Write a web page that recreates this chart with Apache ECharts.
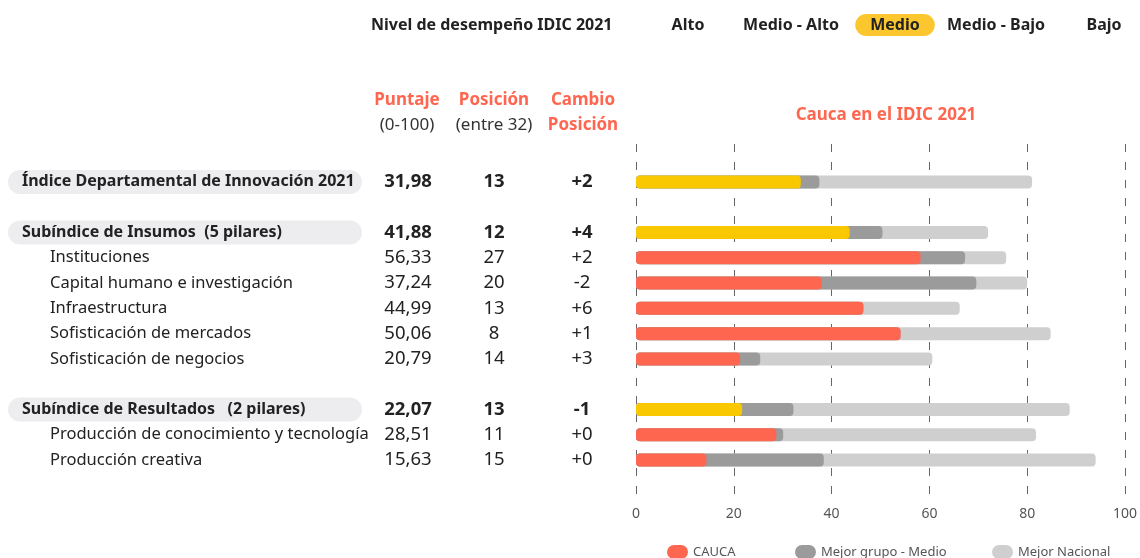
<!DOCTYPE html>
<html>
<head>
<meta charset="utf-8">
<script src="https://cdn.jsdelivr.net/npm/echarts@6/dist/echarts.min.js"></script>
<style>
  html, body { margin: 0; padding: 0; background: #fff; }
  #chart { width: 1140px; height: 558px; }
</style>
</head>
<body>
<div id="chart"></div>
<script>
// filas de la tabla
const nombres = [
  'Índice Departamental de Innovación 2021',
  'Subíndice de Insumos  (5 pilares)',
  'Instituciones',
  'Capital humano e investigación',
  'Infraestructura',
  'Sofisticación de mercados',
  'Sofisticación de negocios',
  'Subíndice de Resultados   (2 pilares)',
  'Producción de conocimiento y tecnología',
  'Producción creativa'
];
const esIndice = [true, true, false, false, false, false, false, true, false, false];
const puntaje = ['31,98', '41,88', '56,33', '37,24', '44,99', '50,06', '20,79', '22,07', '28,51', '15,63'];
const posicion = ['13', '12', '27', '20', '13', '8', '14', '13', '11', '15'];
const cambio = ['+2', '+4', '+2', '-2', '+6', '+1', '+3', '-1', '+0', '+0'];

// barras
const cauca = [33.7, 43.7, 58.2, 38.0, 46.5, 54.1, 21.3, 21.7, 28.7, 14.4];
const mejorGrupo = [37.5, 50.4, 67.3, 69.6, 46.5, 54.1, 25.4, 32.2, 30.1, 38.4];
const mejorNacional = [81.0, 72.0, 75.7, 80.0, 66.2, 84.8, 60.6, 88.7, 81.8, 94.0];

const niveles = ['Alto', 'Medio - Alto', 'Medio', 'Medio - Bajo', 'Bajo'];
const nivelActual = 'Medio';

// espacios en blanco entre bloques (null = hueco)
const huecos = [null, 0, null, 1, 2, 3, 4, 5, 6, null, 7, 8, 9, null];

const ROJO = '#FF6650', AMARILLO = '#FAC800', GRIS = '#9B9B9B', GRIS_CLARO = '#CFCFCF';
const FONT = 'Noto Sans';

const slots = huecos.map((r, i) => 's' + i);
const pick = (arr) => huecos.map(r => (r === null ? null : arr[r]));

const myChart = echarts.init(document.getElementById('chart'));

const ejeTabla = (offset, align, fmt, rich) => ({
  type: 'category',
  data: slots,
  inverse: true,
  position: 'left',
  offset: offset,
  axisLine: { show: false },
  axisTick: { show: false },
  splitLine: { show: false },
  axisLabel: {
    interval: 0,
    margin: 0,
    align: align,
    fontFamily: FONT,
    color: '#222',
    formatter: (v, i) => {
      const r = huecos[i];
      if (r === null) return '';
      return fmt(r);
    },
    rich: rich
  }
});

const numRich = {
  b: { fontFamily: FONT, fontSize: 18.5, fontWeight: 'bold', color: '#222' },
  n: { fontFamily: FONT, fontSize: 18.5, color: '#222' }
};

const option = {
  animation: false,
  textStyle: { fontFamily: FONT },
  title: {
    text: 'Cauca en el IDIC 2021',
    left: 881,
    top: 102,
    textAlign: 'center',
    textStyle: { color: ROJO, fontSize: 17, fontWeight: 'bold', fontFamily: FONT }
  },
  grid: { left: 636, right: 13, top: 144, bottom: 60 },
  xAxis: {
    type: 'value',
    min: 0,
    max: 100,
    interval: 20,
    axisLine: { show: false },
    axisTick: { show: false },
    axisLabel: { color: '#555', fontSize: 14, margin: 9, fontFamily: FONT },
    splitLine: { show: true, lineStyle: { color: '#666', type: [8, 10], width: 1 } }
  },
  yAxis: [
    ejeTabla(628, 'left', (r) => (esIndice[r] ? '{h|' + nombres[r] + '}' : '{s|' + nombres[r] + '}'), {
      h: { fontFamily: FONT, fontSize: 16, fontWeight: 'bold', color: '#222',
           backgroundColor: '#EDEDF0', borderRadius: 12, padding: [4, 0, 4, 14], width: 340, lineHeight: 16 },
      s: { fontFamily: FONT, fontSize: 16.5, color: '#222', padding: [0, 0, 0, 42] }
    }),
    ejeTabla(228, 'center', (r) => (esIndice[r] ? '{b|' : '{n|') + puntaje[r] + '}', numRich),
    ejeTabla(142, 'center', (r) => (esIndice[r] ? '{b|' : '{n|') + posicion[r] + '}', numRich),
    ejeTabla(54, 'center', (r) => (esIndice[r] ? '{b|' : '{n|') + cambio[r] + '}', numRich)
  ],
  legend: [
    { name: 'CAUCA', x: 662 },
    { name: 'Mejor grupo - Medio', x: 790 },
    { name: 'Mejor Nacional', x: 987 }
  ].map(l => ({
    data: [l.name],
    left: l.x,
    top: 540,
    itemWidth: 21,
    itemHeight: 15,
    itemGap: 8,
    icon: 'path://M7,0 H14 A7,7 0 0 1 14,14 H7 A7,7 0 0 1 7,0 Z',
    textStyle: { color: '#555', fontSize: 13, fontFamily: FONT },
    selectedMode: false
  })),
  series: [
    {
      name: 'Mejor Nacional',
      type: 'bar',
      barWidth: 13,
      barGap: '-100%',
      itemStyle: { color: GRIS_CLARO, borderRadius: 4 },
      data: pick(mejorNacional)
    },
    {
      name: 'Mejor grupo - Medio',
      type: 'bar',
      barWidth: 13,
      barGap: '-100%',
      itemStyle: { color: GRIS, borderRadius: 4 },
      data: pick(mejorGrupo)
    },
    {
      name: 'CAUCA',
      type: 'bar',
      barWidth: 13,
      barGap: '-100%',
      itemStyle: { color: ROJO, borderRadius: 4 },
      data: huecos.map(r => (r === null ? null : {
        value: cauca[r],
        itemStyle: { color: esIndice[r] ? AMARILLO : ROJO }
      }))
    }
  ],
  graphic: [
    {
      type: 'text', x: 371, y: 25,
      style: { text: 'Nivel de desempeño IDIC 2021', fontFamily: FONT, fontSize: 16, fontWeight: 'bold', fill: '#222',
               align: 'left', verticalAlign: 'middle' }
    },
    ...niveles.map((n, i) => ({
      type: 'text',
      x: [688, 791, 895, 996, 1104][i],
      y: 25,
      style: {
        text: n,
        fontFamily: FONT, fontSize: 16, fontWeight: 'bold', fill: '#222',
        align: 'center', verticalAlign: 'middle',
        backgroundColor: n === nivelActual ? '#FCC72E' : 'transparent',
        borderRadius: 12,
        padding: n === nivelActual ? [3, 15, 3, 15] : 0
      }
    })),
    ...[
      { t: 'Puntaje', s: '(0-100)', x: 407 },
      { t: 'Posición', s: '(entre 32)', x: 494 },
      { t: 'Cambio', s: 'Posición', x: 583, rojo: true }
    ].flatMap(c => [
      { type: 'text', x: c.x, y: 100,
        style: { text: c.t, fontFamily: FONT, fontSize: 17, fontWeight: 'bold', fill: ROJO, align: 'center', verticalAlign: 'middle' } },
      { type: 'text', x: c.x, y: 125,
        style: { text: c.s, fontFamily: FONT, fontSize: 17, fontWeight: c.rojo ? 'bold' : 'normal',
                 fill: c.rojo ? ROJO : '#333', align: 'center', verticalAlign: 'middle' } }
    ])
  ]
};

option && myChart.setOption(option);
</script>
</body>
</html>
